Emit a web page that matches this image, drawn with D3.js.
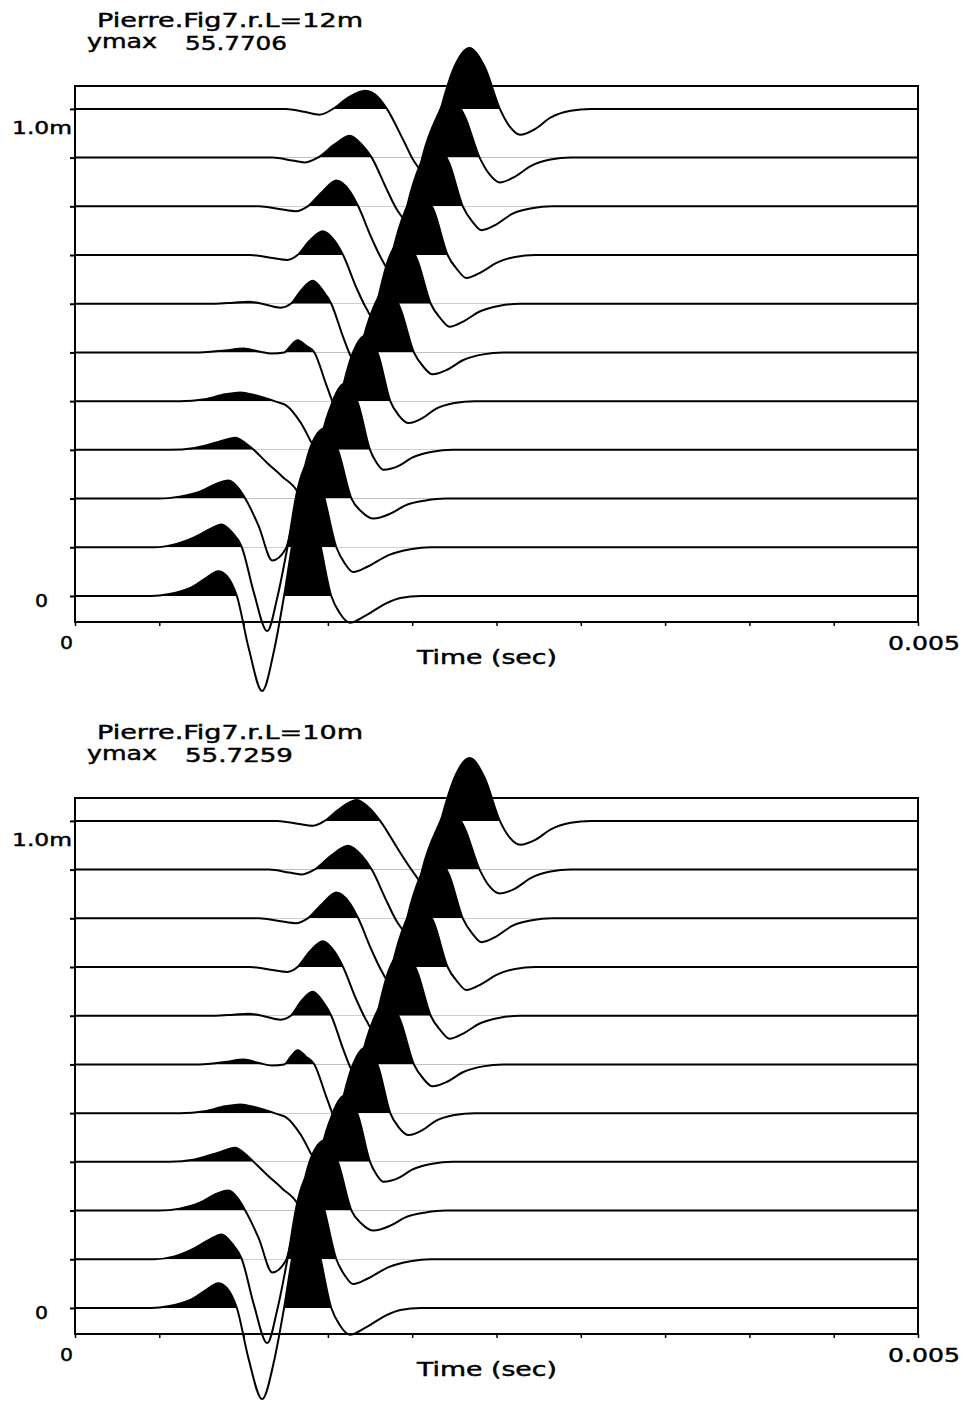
<!DOCTYPE html>
<html><head><meta charset="utf-8">
<script src="https://cdn.jsdelivr.net/npm/d3@7"></script>
<style>
body{margin:0;background:#fff}
svg{display:block}
text{font-family:"DejaVu Sans",sans-serif;fill:#000;stroke:#000;stroke-width:0.45px}
</style>
</head><body>
<svg id="c" width="969" height="1404"></svg>
<script>
// ---- data: trace offsets (m), time ticks (s), traces as [time ms, amplitude in trace spacings]
const offsets = [1.0, 0.9, 0.8, 0.7, 0.6, 0.5, 0.4, 0.3, 0.2, 0.1, 0.0];
const timeTicks = [0, 0.0005, 0.001, 0.0015, 0.002, 0.0025, 0.003, 0.0035, 0.004, 0.0045, 0.005];
const titles = ["Pierre.Fig7.r.L=12m", "Pierre.Fig7.r.L=10m"];
const ymaxValues = ["55.7706", "55.7259"];

const T0 = [[0,0],[1.25,0],[1.36,-0.06],[1.45,-0.12],[1.53,0],[1.62,0.23],[1.72,0.37],[1.80,0.23],[1.85,0],[1.95,-0.66],[2.01,-1.07],[2.06,-1.27],[2.11,-0.86],[2.17,0],[2.25,0.86],[2.34,1.25],[2.43,0.86],[2.52,0],[2.58,-0.37],[2.64,-0.53],[2.73,-0.41],[2.82,-0.18],[2.94,-0.04],[3.06,0],[5,0]];
const T1 = [[0,0],[1.17,0],[1.29,-0.06],[1.36,-0.10],[1.44,0],[1.54,0.27],[1.63,0.45],[1.70,0.27],[1.76,0],[1.85,-0.66],[1.91,-1.07],[1.96,-1.27],[2.01,-0.86],[2.06,0],[2.15,0.86],[2.22,1.25],[2.31,0.86],[2.40,0],[2.46,-0.35],[2.52,-0.51],[2.61,-0.39],[2.70,-0.18],[2.82,-0.04],[2.94,0],[5,0]];
const T2 = [[0,0],[1.09,0],[1.22,-0.06],[1.31,-0.10],[1.38,0],[1.47,0.31],[1.55,0.53],[1.63,0.31],[1.68,0],[1.76,-0.66],[1.82,-1.09],[1.86,-1.29],[1.92,-0.88],[1.97,0],[2.05,0.88],[2.13,1.29],[2.22,0.88],[2.30,0],[2.36,-0.33],[2.41,-0.49],[2.50,-0.37],[2.59,-0.16],[2.71,-0.04],[2.83,0],[5,0]];
const T3 = [[0,0],[1.04,0],[1.17,-0.06],[1.26,-0.10],[1.32,0],[1.39,0.29],[1.47,0.49],[1.54,0.29],[1.59,0],[1.67,-0.68],[1.73,-1.11],[1.77,-1.31],[1.83,-0.90],[1.88,0],[1.96,0.92],[2.04,1.33],[2.13,0.90],[2.21,0],[2.27,-0.31],[2.32,-0.47],[2.41,-0.35],[2.50,-0.16],[2.61,-0.04],[2.73,0],[5,0]];
const T4 = [[0,0],[0.83,0],[0.94,0.02],[1.03,0.04],[1.11,0],[1.22,-0.08],[1.28,0],[1.34,0.27],[1.41,0.47],[1.47,0.27],[1.52,0],[1.59,-0.68],[1.64,-1.11],[1.68,-1.31],[1.73,-0.90],[1.79,0],[1.86,0.92],[1.95,1.33],[2.03,0.90],[2.11,0],[2.17,-0.31],[2.22,-0.47],[2.31,-0.35],[2.40,-0.16],[2.52,-0.04],[2.64,0],[5,0]];
const T5 = [[0,0],[0.74,0],[0.89,0.04],[1.00,0.08],[1.09,0.02],[1.17,-0.02],[1.24,0],[1.28,0.14],[1.32,0.25],[1.37,0.14],[1.42,0],[1.49,-0.66],[1.54,-1.11],[1.58,-1.31],[1.64,-0.90],[1.69,0],[1.77,0.92],[1.85,1.33],[1.93,0.90],[2.01,0],[2.07,-0.31],[2.12,-0.45],[2.21,-0.35],[2.30,-0.16],[2.42,-0.04],[2.54,0],[5,0]];
const T6 = [[0,0],[0.62,0],[0.77,0.04],[0.89,0.14],[0.98,0.18],[1.07,0.12],[1.15,0.04],[1.20,-0.02],[1.25,-0.08],[1.34,-0.45],[1.41,-0.90],[1.48,-1.31],[1.52,-0.90],[1.57,0],[1.64,0.92],[1.73,1.36],[1.80,0.94],[1.87,0],[1.92,-0.29],[1.98,-0.45],[2.06,-0.35],[2.14,-0.16],[2.25,-0.04],[2.37,0],[5,0]];
const T7 = [[0,0],[0.56,0],[0.71,0.04],[0.85,0.16],[0.95,0.25],[1.01,0.14],[1.06,0],[1.14,-0.27],[1.23,-0.55],[1.32,-0.86],[1.36,-1.15],[1.39,-1.23],[1.42,-0.86],[1.45,0],[1.52,0.92],[1.60,1.36],[1.68,0.94],[1.75,0],[1.79,-0.27],[1.83,-0.41],[1.92,-0.33],[2.00,-0.16],[2.12,-0.04],[2.24,0],[5,0]];
const T8 = [[0,0],[0.50,0],[0.62,0.04],[0.74,0.14],[0.83,0.29],[0.91,0.37],[0.97,0.21],[1.01,0],[1.09,-0.57],[1.17,-1.27],[1.25,-1.03],[1.32,0],[1.39,0.99],[1.48,1.44],[1.56,0.99],[1.64,0],[1.70,-0.27],[1.77,-0.41],[1.87,-0.31],[1.96,-0.14],[2.08,-0.04],[2.20,0],[5,0]];
const T9 = [[0,0],[0.47,0],[0.59,0.06],[0.71,0.21],[0.80,0.37],[0.87,0.47],[0.93,0.31],[0.99,0],[1.06,-0.92],[1.14,-1.72],[1.20,-1.03],[1.26,0],[1.32,1.19],[1.39,1.75],[1.47,1.13],[1.55,0],[1.60,-0.33],[1.65,-0.51],[1.74,-0.39],[1.86,-0.16],[1.99,-0.04],[2.11,0],[5,0]];
const T10 = [[0,0],[0.45,0],[0.56,0.04],[0.68,0.16],[0.77,0.35],[0.85,0.51],[0.90,0.41],[0.93,0.25],[0.96,0],[1.03,-1.07],[1.11,-1.95],[1.18,-1.13],[1.24,0],[1.30,1.27],[1.36,1.95],[1.44,1.27],[1.52,0],[1.57,-0.35],[1.63,-0.55],[1.72,-0.41],[1.84,-0.16],[1.93,-0.04],[2.05,0],[5,0]];

const B0 = [[0,0],[1.20,0],[1.32,-0.06],[1.41,-0.10],[1.48,0],[1.57,0.25],[1.67,0.43],[1.75,0.25],[1.81,0],[1.93,-0.66],[2.01,-1.07],[2.06,-1.27],[2.11,-0.86],[2.17,0],[2.25,0.88],[2.34,1.29],[2.43,0.88],[2.52,0],[2.58,-0.35],[2.64,-0.49],[2.73,-0.39],[2.82,-0.18],[2.94,-0.04],[3.06,0],[5,0]];
const B1 = [[0,0],[1.15,0],[1.27,-0.06],[1.34,-0.10],[1.42,0],[1.52,0.29],[1.62,0.49],[1.70,0.29],[1.76,0],[1.85,-0.66],[1.91,-1.07],[1.96,-1.27],[2.01,-0.86],[2.06,0],[2.15,0.86],[2.22,1.27],[2.31,0.86],[2.40,0],[2.46,-0.35],[2.52,-0.49],[2.61,-0.39],[2.70,-0.18],[2.82,-0.04],[2.94,0],[5,0]];
const B2 = [[0,0],[1.09,0],[1.22,-0.06],[1.31,-0.10],[1.38,0],[1.47,0.31],[1.55,0.53],[1.63,0.31],[1.68,0],[1.76,-0.66],[1.82,-1.09],[1.86,-1.29],[1.92,-0.88],[1.97,0],[2.05,0.88],[2.13,1.29],[2.22,0.88],[2.30,0],[2.36,-0.33],[2.41,-0.49],[2.50,-0.37],[2.59,-0.16],[2.71,-0.04],[2.83,0],[5,0]];
const B3 = [[0,0],[1.04,0],[1.17,-0.06],[1.26,-0.10],[1.32,0],[1.39,0.31],[1.47,0.53],[1.54,0.31],[1.59,0],[1.67,-0.68],[1.73,-1.11],[1.77,-1.31],[1.83,-0.90],[1.88,0],[1.96,0.92],[2.04,1.33],[2.13,0.90],[2.21,0],[2.27,-0.31],[2.32,-0.47],[2.41,-0.35],[2.50,-0.16],[2.61,-0.04],[2.73,0],[5,0]];
const B4 = [[0,0],[0.83,0],[0.94,0.02],[1.03,0.04],[1.11,0],[1.22,-0.08],[1.28,0],[1.34,0.29],[1.41,0.49],[1.47,0.29],[1.52,0],[1.59,-0.68],[1.64,-1.11],[1.68,-1.31],[1.73,-0.90],[1.79,0],[1.86,0.92],[1.95,1.33],[2.03,0.90],[2.11,0],[2.17,-0.31],[2.22,-0.47],[2.31,-0.35],[2.40,-0.16],[2.52,-0.04],[2.64,0],[5,0]];
const B5 = [[0,0],[0.74,0],[0.89,0.05],[1.00,0.10],[1.09,0.03],[1.17,-0.02],[1.24,0],[1.28,0.16],[1.32,0.29],[1.37,0.16],[1.42,0],[1.49,-0.66],[1.54,-1.11],[1.58,-1.31],[1.64,-0.90],[1.69,0],[1.77,0.92],[1.85,1.33],[1.93,0.90],[2.01,0],[2.07,-0.31],[2.12,-0.45],[2.21,-0.35],[2.30,-0.16],[2.42,-0.04],[2.54,0],[5,0]];
const B6 = [[0,0],[0.62,0],[0.77,0.04],[0.89,0.14],[0.98,0.18],[1.07,0.12],[1.15,0.04],[1.20,-0.02],[1.25,-0.08],[1.34,-0.45],[1.41,-0.90],[1.48,-1.31],[1.52,-0.90],[1.57,0],[1.64,0.92],[1.73,1.36],[1.80,0.94],[1.87,0],[1.92,-0.29],[1.98,-0.45],[2.06,-0.35],[2.14,-0.16],[2.25,-0.04],[2.37,0],[5,0]];
const B7 = [[0,0],[0.56,0],[0.71,0.05],[0.85,0.19],[0.95,0.29],[1.01,0.16],[1.06,0],[1.14,-0.27],[1.23,-0.55],[1.32,-0.86],[1.36,-1.15],[1.39,-1.23],[1.42,-0.86],[1.45,0],[1.52,0.92],[1.60,1.36],[1.68,0.94],[1.75,0],[1.79,-0.27],[1.83,-0.41],[1.92,-0.33],[2.00,-0.16],[2.12,-0.04],[2.24,0],[5,0]];
const B8 = [[0,0],[0.50,0],[0.62,0.04],[0.74,0.16],[0.83,0.33],[0.91,0.41],[0.97,0.23],[1.01,0],[1.09,-0.57],[1.17,-1.27],[1.25,-1.03],[1.32,0],[1.39,0.99],[1.48,1.44],[1.56,0.99],[1.64,0],[1.70,-0.27],[1.77,-0.41],[1.87,-0.31],[1.96,-0.14],[2.08,-0.04],[2.20,0],[5,0]];
const B9 = [[0,0],[0.47,0],[0.59,0.06],[0.71,0.23],[0.80,0.41],[0.87,0.51],[0.93,0.33],[0.99,0],[1.06,-0.92],[1.14,-1.72],[1.20,-1.03],[1.26,0],[1.32,1.19],[1.39,1.75],[1.47,1.13],[1.55,0],[1.60,-0.33],[1.65,-0.51],[1.74,-0.39],[1.86,-0.16],[1.99,-0.04],[2.11,0],[5,0]];
const B10 = [[0,0],[0.45,0],[0.56,0.04],[0.68,0.16],[0.77,0.35],[0.85,0.51],[0.90,0.41],[0.93,0.25],[0.96,0],[1.03,-1.05],[1.11,-1.87],[1.18,-1.10],[1.24,0],[1.30,1.25],[1.36,1.90],[1.44,1.25],[1.52,0],[1.57,-0.35],[1.63,-0.55],[1.72,-0.41],[1.84,-0.16],[1.93,-0.04],[2.05,0],[5,0]];

const panelTraces = [
  [T0, T1, T2, T3, T4, T5, T6, T7, T8, T9, T10],
  [B0, B1, B2, B3, B4, B5, B6, B7, B8, B9, B10]
];

// ---- drawing
const svg = d3.select("#c");
const x = d3.scaleLinear().domain([0, 0.005]).range([75, 918]);
const PANEL_SHIFT = 712;

function label(g, txt, px, py, size, len, anchor) {
  const t = g.append("text").attr("x", px).attr("y", py).attr("font-size", size).text(txt);
  if (anchor) t.attr("text-anchor", anchor);
  if (len) t.attr("textLength", len).attr("lengthAdjust", "spacingAndGlyphs");
  return t;
}

panelTraces.forEach((traces, pi) => {
  const oy = pi * PANEL_SHIFT;
  const y = d3.scaleLinear().domain([-0.0534, 1.047]).range([622 + oy, 86 + oy]);
  const g = svg.append("g");

  // titles
  label(g, titles[pi], 97, 27 + oy, 20, 266);
  label(g, "ymax", 87, 48 + oy, 19, 70);
  label(g, ymaxValues[pi], 185, 50 + oy, 20, pi === 0 ? 102 : 108);

  // frame
  g.append("rect").attr("x", x(0)).attr("y", y(1.047))
    .attr("width", x(0.005) - x(0)).attr("height", y(-0.0534) - y(1.047))
    .attr("fill", "none").attr("stroke", "#000").attr("stroke-width", 2);

  // axes ticks
  const ax = g.append("g").attr("transform", `translate(${x(0)},0)`)
    .call(d3.axisLeft(y).tickValues(offsets).tickSize(5).tickSizeOuter(0).tickFormat(() => ""));
  ax.select(".domain").remove();
  ax.selectAll("line").attr("stroke-width", 2);
  const bx = g.append("g").attr("transform", `translate(0,${y(-0.0534)})`)
    .call(d3.axisBottom(x).tickValues(timeTicks).tickSize(4).tickSizeOuter(0).tickFormat(() => ""));
  bx.select(".domain").remove();
  bx.selectAll("line").attr("stroke-width", 1.5);

  // traces (top to bottom so lower fills cover upper lines)
  traces.forEach((tr, i) => {
    const off = offsets[i];
    const yb = y(off);
    const cid = `clip${pi}_${i}`;
    svg.append("clipPath").attr("id", cid).append("rect")
      .attr("x", 0).attr("y", yb - 400).attr("width", 969).attr("height", 400);
    const area = d3.area()
      .x(d => x(d[0] / 1000)).y0(yb).y1(d => y(off + d[1] * 0.1))
      .curve(d3.curveMonotoneX);
    const line = d3.line()
      .x(d => x(d[0] / 1000)).y(d => y(off + d[1] * 0.1))
      .curve(d3.curveMonotoneX);
    g.append("path").datum(tr).attr("d", area).attr("fill", "#000")
      .attr("clip-path", `url(#${cid})`);
    g.append("path").datum(tr).attr("d", line).attr("fill", "none")
      .attr("stroke", "#000").attr("stroke-width", 2).attr("stroke-linejoin", "round");
  });

  // axis labels
  label(g, "1.0m", 72, y(1.0) + 25, 17, 60, "end");
  label(g, "0", 48, y(0) + 11, 17, 13, "end");
  label(g, "0", x(0) - 2, 649 + oy, 18, 13, "end");
  label(g, "0.005", x(0.005) - 30, 650 + oy, 20, 72);
  label(g, "Time (sec)", 417, 664 + oy, 19, 140);
});
</script>
</body></html>
